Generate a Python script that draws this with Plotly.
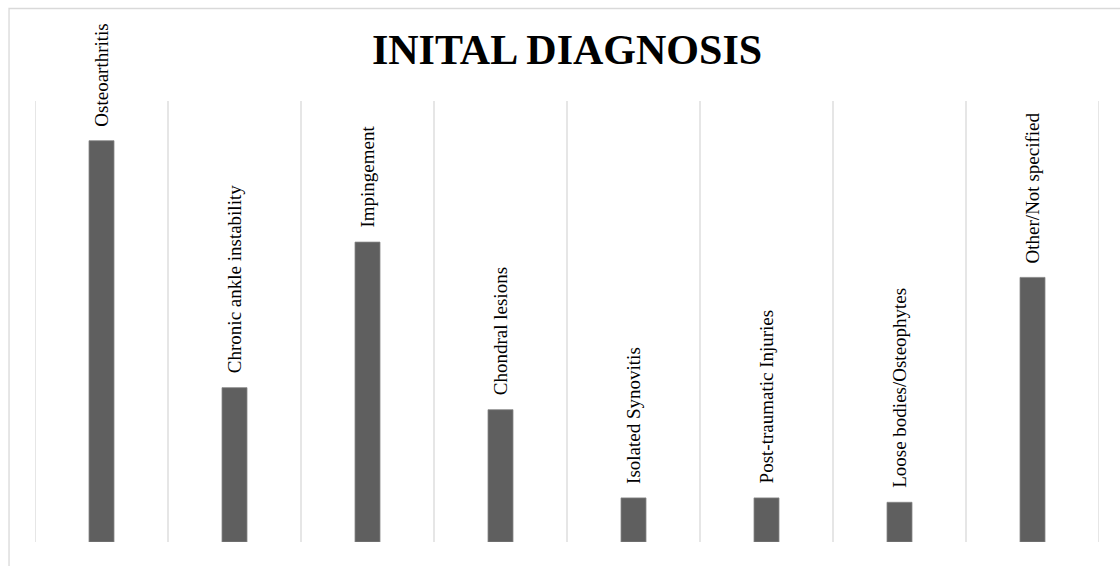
import plotly.graph_objects as go

categories = ["Osteoarthritis", "Chronic ankle instability", "Impingement", "Chondral lesions",
              "Isolated Synovitis", "Post-traumatic Injuries", "Loose bodies/Osteophytes",
              "Other/Not specified"]
values = [91, 35, 68, 30, 10, 10, 9, 60]

FONT = "Liberation Serif, Times New Roman, serif"

fig = go.Figure()
fig.add_trace(go.Bar(
    x=list(range(len(categories))), y=values,
    marker=dict(color="#5f5f5f", line=dict(color="#858585", width=0.8)),
    width=0.188, hoverinfo="skip", showlegend=False,
))

shapes = []
for i in range(len(categories) + 1):
    shapes.append(dict(type="line", xref="x", yref="paper", x0=i - 0.5, x1=i - 0.5,
                       y0=0, y1=1, line=dict(color="#d9d9d9", width=1.3), layer="below"))
# outer chart border
shapes.append(dict(type="rect", xref="paper", yref="paper",
                   x0=-0.0244, x1=1.04, y0=-0.1, y1=1.2098,
                   line=dict(color="#d9d9d9", width=1.3)))

annotations = []
for i, (c, v) in enumerate(zip(categories, values)):
    annotations.append(dict(x=i, y=v, xref="x", yref="y", text=c, showarrow=False,
                            textangle=-90, xanchor="center", yanchor="bottom", yshift=12,
                            font=dict(family=FONT, size=19, color="#000000")))

fig.update_layout(
    width=1120, height=566,
    margin=dict(l=35, r=21, t=101, b=24),
    paper_bgcolor="white", plot_bgcolor="white",
    title=dict(text="<b>INITAL DIAGNOSIS</b>", x=0.5, xref="paper", xanchor="center",
               y=0.913, yanchor="middle",
               font=dict(family=FONT, size=42, color="#000000")),
    xaxis=dict(range=[-0.5, len(categories) - 0.5], showgrid=False, zeroline=False,
               showticklabels=False, showline=False, ticks=""),
    yaxis=dict(range=[0, 100], showgrid=False, zeroline=False, showticklabels=False,
               showline=False, ticks=""),
    shapes=shapes, annotations=annotations,
)

fig.write_html("out.html")
